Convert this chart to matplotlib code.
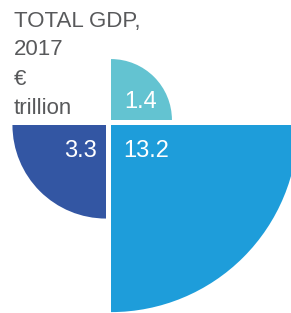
import matplotlib.pyplot as plt
from matplotlib.patches import Wedge
import numpy as np

# data
labels = ['1.4', '3.3', '13.2']
values = [1.4, 3.3, 13.2]
colors = ['#63c3d1', '#3356a3', '#1e9dda']
title_lines = ['TOTAL GDP,', '2017', '€', 'trillion']

plt.rcParams['font.family'] = ['Liberation Sans', 'DejaVu Sans']

fig = plt.figure(figsize=(2.91, 3.13), dpi=100)
ax = fig.add_axes([0, 0, 1, 1])
ax.set_xlim(0, 291)
ax.set_ylim(313, 0)
ax.axis('off')

# radius ~ sqrt(value), areas proportional
k = 51.5
radii = [k * np.sqrt(v) for v in values]

# screen quadrants (y axis inverted): top-right, bottom-left, bottom-right
centers = [(111, 120), (106, 125), (111, 125)]
angles = [(270, 360), (90, 180), (0, 90)]
for c, r, (a1, a2), col in zip(centers, radii, angles, colors):
    ax.add_patch(Wedge(c, r, a1, a2, facecolor=col, edgecolor='none'))

# value labels
ax.text(124, 108, labels[0], color='white', fontsize=17, ha='left', va='baseline')
ax.text(97, 157, labels[1], color='white', fontsize=17, ha='right', va='baseline')
ax.text(123, 157, labels[2], color='white', fontsize=17, ha='left', va='baseline')

# title
for line, yb in zip(title_lines, [27, 55, 85, 114]):
    ax.text(14, yb, line, color='#58595b', fontsize=16, ha='left', va='baseline')

fig.savefig('out.png', dpi=100)
